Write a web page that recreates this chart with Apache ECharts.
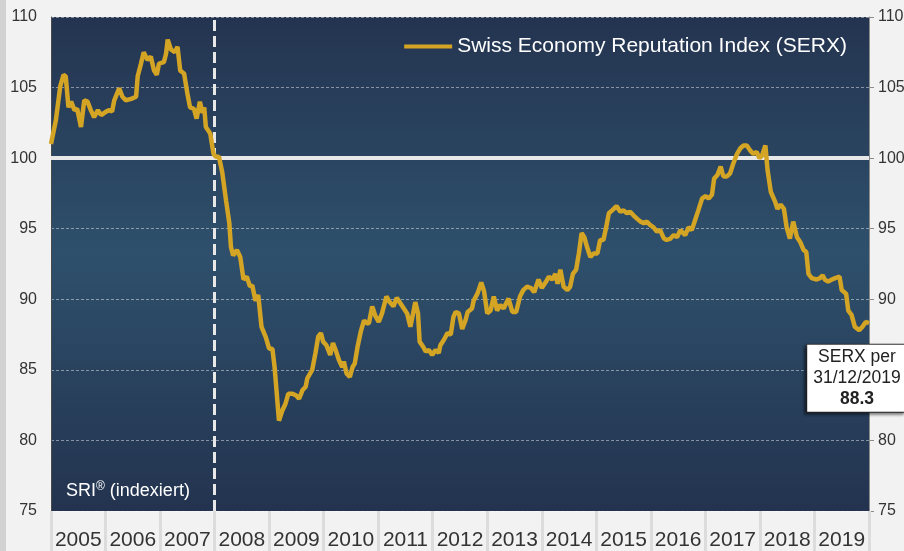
<!DOCTYPE html>
<html style="height: 100%">
<head>
    <meta charset="utf-8">
    <title>Swiss Economy Reputation Index (SERX)</title>
    <script src="https://cdn.jsdelivr.net/npm/echarts@6/dist/echarts.min.js"></script>
</head>
<body style="height: 100%; margin: 0; background: #f2f2f2">
<div id="container" style="width: 904px; height: 551px"></div>
<script type="text/javascript">
    // Jahre (Kategorien der x-Achse)
    var years = ['2005', '2006', '2007', '2008', '2009', '2010', '2011', '2012', '2013', '2014', '2015', '2016', '2017', '2018', '2019'];
    var yTicks = [75, 80, 85, 90, 95, 100, 105, 110];

    // Zeitpunkte (Dezimaljahre) und Indexwerte
    var dates = [
        2005.00, 2005.09, 2005.17, 2005.23, 2005.27, 2005.32, 2005.37, 2005.43, 2005.48, 2005.55, 2005.61, 2005.67, 2005.73, 2005.79, 2005.86, 2005.92,
        2006.01, 2006.07, 2006.12, 2006.16, 2006.25, 2006.31, 2006.37, 2006.47, 2006.56, 2006.59, 2006.65, 2006.70, 2006.77, 2006.83, 2006.89, 2006.94, 2006.98,
        2007.07, 2007.11, 2007.14, 2007.20, 2007.27, 2007.32, 2007.37, 2007.44, 2007.50, 2007.55, 2007.62, 2007.67, 2007.73, 2007.78, 2007.81, 2007.84, 2007.92, 2007.98,
        2008.02, 2008.08, 2008.14, 2008.21, 2008.27, 2008.30, 2008.34, 2008.41, 2008.47, 2008.53, 2008.59, 2008.65, 2008.69, 2008.75, 2008.80, 2008.86, 2008.94,
        2009.00, 2009.06, 2009.10, 2009.18, 2009.24, 2009.30, 2009.35, 2009.43, 2009.49, 2009.55, 2009.61, 2009.67, 2009.70, 2009.79, 2009.85, 2009.90, 2009.95, 2009.99,
        2010.05, 2010.12, 2010.17, 2010.22, 2010.28, 2010.34, 2010.37, 2010.42, 2010.48, 2010.53, 2010.57, 2010.62, 2010.68, 2010.74, 2010.79, 2010.83, 2010.89, 2010.95,
        2011.01, 2011.07, 2011.15, 2011.21, 2011.28, 2011.34, 2011.41, 2011.47, 2011.53, 2011.59, 2011.64, 2011.68, 2011.73, 2011.76, 2011.83, 2011.87, 2011.93, 2011.99,
        2012.05, 2012.11, 2012.14, 2012.20, 2012.27, 2012.33, 2012.38, 2012.42, 2012.48, 2012.54, 2012.60, 2012.64, 2012.72, 2012.75, 2012.82, 2012.89, 2012.94,
        2013.00, 2013.06, 2013.12, 2013.18, 2013.24, 2013.30, 2013.39, 2013.46, 2013.53, 2013.60, 2013.66, 2013.73, 2013.80, 2013.86, 2013.94,
        2014.00, 2014.07, 2014.13, 2014.19, 2014.25, 2014.29, 2014.34, 2014.40, 2014.47, 2014.52, 2014.57, 2014.63, 2014.68, 2014.73, 2014.78, 2014.83, 2014.89, 2014.95,
        2015.02, 2015.07, 2015.13, 2015.18, 2015.23, 2015.29, 2015.37, 2015.44, 2015.50, 2015.56, 2015.62, 2015.68, 2015.75, 2015.81, 2015.87, 2015.93, 2015.99,
        2016.05, 2016.11, 2016.17, 2016.24, 2016.29, 2016.36, 2016.42, 2016.48, 2016.54, 2016.63, 2016.69, 2016.75, 2016.81, 2016.87, 2016.94,
        2017.00, 2017.06, 2017.12, 2017.16, 2017.22, 2017.28, 2017.33, 2017.39, 2017.45, 2017.51, 2017.58, 2017.64, 2017.70, 2017.76, 2017.82, 2017.88, 2017.94, 2017.99,
        2018.04, 2018.10, 2018.14, 2018.20, 2018.28, 2018.32, 2018.38, 2018.44, 2018.49, 2018.55, 2018.61, 2018.68, 2018.74, 2018.80, 2018.85, 2018.89, 2018.95,
        2019.04, 2019.10, 2019.15, 2019.19, 2019.25, 2019.32, 2019.38, 2019.46, 2019.50, 2019.58, 2019.62, 2019.68, 2019.74, 2019.82, 2019.88, 2019.94, 2020.00
    ];
    var serx = [
        101.0, 102.7, 105.1, 105.9, 105.8, 103.6, 104.0, 103.4, 103.5, 102.2, 104.1, 104.0, 103.4, 102.9, 103.4, 103.05,
        103.3, 103.4, 103.3, 104.1, 104.95, 104.35, 104.1, 104.2, 104.35, 105.8, 106.7, 107.5, 106.95, 107.2, 106.2, 105.9, 106.7,
        106.8, 107.4, 108.4, 107.7, 107.5, 107.9, 106.2, 106.0, 104.6, 103.6, 103.5, 102.8, 104.0, 103.2, 103.6, 102.2, 101.75, 100.3,
        100.1, 100.1, 99.0, 97.0, 95.4, 93.7, 93.1, 93.5, 93.0, 91.4, 91.6, 90.9, 91.0, 89.9, 90.3, 88.05, 87.3,
        86.5, 86.5, 85.2, 81.4, 82.1, 82.6, 83.3, 83.3, 83.2, 82.95, 83.55, 83.8, 84.4, 85.0, 86.2, 87.35, 87.6, 87.0,
        86.75, 86.05, 86.9, 86.4, 85.7, 85.2, 85.6, 84.75, 84.5, 85.2, 85.45, 86.6, 87.7, 88.5, 88.3, 88.3, 89.5, 88.8,
        88.4, 89.0, 90.2, 89.8, 89.5, 90.1, 89.7, 89.35, 89.0, 88.05, 89.0, 89.8, 89.0, 87.0, 86.6, 86.3, 86.4, 86.05,
        86.4, 86.2, 86.75, 87.1, 87.6, 87.5, 88.75, 89.1, 89.0, 87.9, 88.5, 89.1, 89.35, 89.9, 90.4, 91.2, 90.6,
        89.0, 89.2, 90.2, 89.2, 89.6, 89.35, 90.05, 89.1, 89.1, 90.2, 90.65, 90.9, 90.8, 90.5, 91.4,
        90.8, 91.2, 91.6, 91.4, 91.8, 91.1, 92.1, 90.9, 90.65, 90.9, 91.8, 92.1, 93.25, 94.7, 94.4, 93.7, 93.0, 93.25,
        93.25, 94.2, 94.2, 95.1, 96.1, 96.3, 96.6, 96.2, 96.3, 96.1, 96.2, 95.95, 95.7, 95.5, 95.4, 95.5, 95.25,
        95.1, 94.8, 94.9, 94.3, 94.2, 94.3, 94.55, 94.4, 94.9, 94.55, 95.1, 94.9, 95.6, 96.3, 97.15,
        97.3, 97.15, 97.4, 98.55, 98.8, 99.4, 98.7, 98.7, 98.9, 99.6, 100.3, 100.7, 100.9, 100.9, 100.55, 100.3, 100.45, 100.0,
        100.2, 100.9, 99.15, 97.6, 96.9, 96.4, 96.7, 96.4, 95.1, 94.3, 95.5, 94.4, 94.05, 93.5, 93.35, 91.8, 91.5,
        91.4, 91.5, 91.7, 91.4, 91.25, 91.4, 91.5, 91.6, 90.65, 90.4, 89.2, 88.9, 88.05, 87.8, 88.05, 88.4, 88.3
    ];
    var lastDateText = '31/12/2019';

    var points = [];
    for (var i = 0; i < dates.length; i++) {
        points.push([dates[i], serx[i]]);
    }
    var last = points[points.length - 1];

    var font = 'Liberation Sans, Arial, sans-serif';
    var myChart = echarts.init(document.getElementById('container'));
    var option = {
        backgroundColor: '#f2f2f2',
        animation: false,
        textStyle: {fontFamily: font},
        graphic: [
            {type: 'rect', left: 0, top: 0, shape: {width: 6, height: 551}, style: {fill: '#d2d2d2'}, z: -1},
            {
                type: 'text', left: 66, top: 481, z: 10,
                style: {
                    text: '{a|SRI}{s|®}{a| (indexiert)}',
                    rich: {
                        a: {fontSize: 18, fill: '#ffffff', fontFamily: font},
                        s: {fontSize: 12, fill: '#ffffff', fontFamily: font, verticalAlign: 'top', padding: [0, 0, 8, 0]}
                    }
                }
            }
        ],
        grid: {
            left: 51, right: 35, top: 17, bottom: 40,
            outerBoundsMode: 'none',
            containLabel: false,
            show: true,
            borderWidth: 0,
            backgroundColor: new echarts.graphic.LinearGradient(0, 0, 0, 1, [
                {offset: 0, color: '#243450'},
                {offset: 0.48, color: '#2e506c'},
                {offset: 1, color: '#23334f'}
            ])
        },
        legend: {
            right: 52, top: 31,
            icon: 'rect', itemWidth: 48, itemHeight: 4, itemGap: 6,
            textStyle: {color: '#ffffff', fontSize: 21, fontFamily: font}
        },
        xAxis: [
            {
                type: 'category', data: years, boundaryGap: true,
                axisLine: {show: false},
                axisTick: {show: true, interval: 0, length: 40, lineStyle: {color: '#dcdcdc', width: 3}},
                axisLabel: {color: '#333333', fontSize: 21, margin: 19, interval: 0, fontFamily: font},
                splitLine: {show: false}
            },
            {type: 'value', min: 2005, max: 2020, show: false}
        ],
        yAxis: [
            {
                type: 'value', min: 75, max: 110, interval: 5, position: 'left',
                axisLine: {show: true, lineStyle: {color: '#4a4a4a', width: 1}},
                axisTick: {show: false},
                axisLabel: {color: '#333333', fontSize: 16, margin: 14, fontFamily: font},
                splitLine: {show: true, lineStyle: {color: 'rgba(255,255,255,0.45)', type: [3, 2], width: 1}}
            },
            {
                type: 'value', min: 75, max: 110, interval: 5, position: 'right',
                axisLine: {show: true, lineStyle: {color: '#8c8c8c', width: 1}},
                axisTick: {show: true, length: 5, lineStyle: {color: '#8c8c8c'}},
                axisLabel: {color: '#333333', fontSize: 16, margin: 9, fontFamily: font},
                splitLine: {show: false}
            }
        ],
        series: [
            {
                name: 'Swiss Economy Reputation Index (SERX)',
                type: 'line',
                xAxisIndex: 1,
                yAxisIndex: 0,
                data: points,
                showSymbol: false,
                symbol: 'none',
                lineStyle: {color: '#d4a424', width: 4.5},
                itemStyle: {color: '#d4a424'},
                z: 5,
                markLine: {
                    silent: true,
                    symbol: 'none',
                    label: {show: false},
                    z: 3,
                    data: [
                        {yAxis: 100, lineStyle: {color: '#e8e8e8', width: 4, type: 'solid'}},
                        {xAxis: 2008, lineStyle: {color: '#e8e8e8', width: 3, type: [11, 5]}}
                    ]
                },
                markPoint: {
                    symbol: 'rect',
                    symbolSize: 1,
                    itemStyle: {color: 'rgba(0,0,0,0)'},
                    z: 20,
                    data: [{coord: last, value: last[1]}],
                    label: {
                        show: true,
                        position: 'inside',
                        offset: [-13, 55],
                        formatter: function () {
                            return 'SERX per\n' + lastDateText + '\n{b|' + last[1].toFixed(1) + '}';
                        },
                        color: '#222222',
                        fontSize: 17.5,
                        lineHeight: 21,
                        fontFamily: font,
                        align: 'center',
                        backgroundColor: '#ffffff',
                        borderColor: '#333333',
                        borderWidth: 1,
                        padding: [2, 4, 2, 6],
                        shadowColor: 'rgba(0,0,0,0.45)',
                        shadowBlur: 3,
                        shadowOffsetX: -2,
                        shadowOffsetY: 2,
                        rich: {
                            b: {fontWeight: 'bold', fontSize: 17.5, color: '#222222', lineHeight: 21, fontFamily: font}
                        }
                    }
                }
            }
        ]
    };
    myChart.setOption(option, true);
</script>
</body>
</html>
